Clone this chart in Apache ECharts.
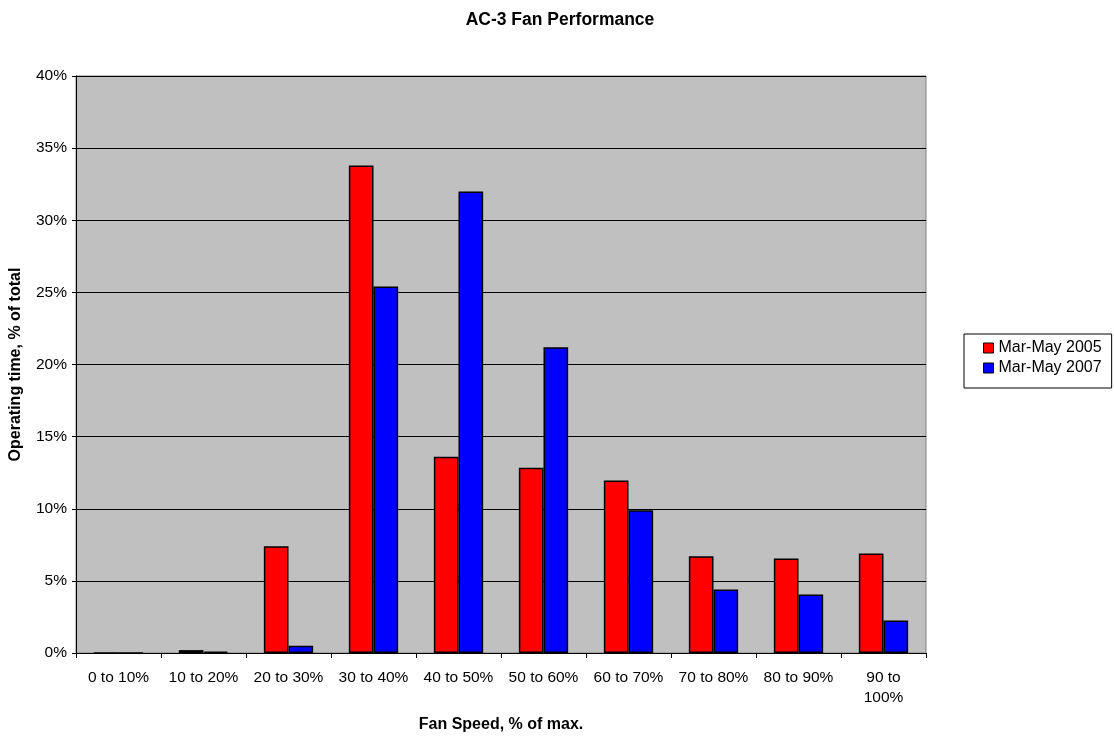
<!DOCTYPE html>
<html>
<head>
<meta charset="utf-8">
<script src="https://cdn.jsdelivr.net/npm/echarts@6/dist/echarts.min.js"></script>
<style>
  html, body { margin: 0; padding: 0; background: #ffffff; }
  #chart { width: 1114px; height: 736px; }
</style>
</head>
<body>
<div id="chart"></div>
<script>
// Fan speed bins (x axis categories)
const speedBins = ['0 to 10%', '10 to 20%', '20 to 30%', '30 to 40%', '40 to 50%',
                   '50 to 60%', '60 to 70%', '70 to 80%', '80 to 90%', '90 to\n100%'];
// Share of operating time in each bin, percent
const marMay2005 = [0, 0.2, 7.4, 33.8, 13.6, 12.85, 11.95, 6.7, 6.55, 6.9];
const marMay2007 = [0, 0.1, 0.5, 25.4, 32.0, 21.2, 9.9, 4.4, 4.05, 2.25];
// Y axis tick values
const yTicks = { min: 0, max: 40, step: 5 };

const font = 'Liberation Sans, Arial, sans-serif';
const chart = echarts.init(document.getElementById('chart'), null, { renderer: 'canvas' });

chart.setOption({
  animation: false,
  backgroundColor: '#ffffff',
  title: {
    text: 'AC-3 Fan Performance',
    left: 555, top: 6, textAlign: 'center',
    textStyle: { fontFamily: font, fontSize: 17.5, fontWeight: 'bold', color: '#000' }
  },
  legend: {
    orient: 'vertical',
    left: 964, top: 334,
    padding: [6, 10, 12, 19],
    itemGap: 4,
    itemWidth: 10, itemHeight: 10,
    icon: 'rect',
    itemStyle: { borderColor: '#000', borderWidth: 1 },
    borderColor: '#000', borderWidth: 1,
    backgroundColor: '#fff',
    textStyle: { fontFamily: font, fontSize: 16, color: '#000' },
    data: ['Mar-May 2005', 'Mar-May 2007']
  },
  grid: {
    left: 76, top: 76, width: 850, height: 577,
    outerBoundsMode: 'none',
    containLabel: false,
    show: true,
    backgroundColor: '#c0c0c0',
    borderColor: '#808080', borderWidth: 1
  },
  xAxis: {
    type: 'category',
    data: speedBins,
    name: 'Fan Speed, % of max.',
    nameLocation: 'middle',
    nameGap: 64,
    nameTextStyle: { fontFamily: font, fontSize: 16, fontWeight: 'bold', color: '#000' },
    axisLine: { lineStyle: { color: '#000', width: 1 } },
    axisTick: { show: true, length: 5, lineStyle: { color: '#000' } },
    axisLabel: { fontFamily: font, fontSize: 15.5, color: '#000', margin: 15, lineHeight: 20, interval: 0 },
    splitLine: { show: false }
  },
  yAxis: {
    type: 'value',
    min: yTicks.min, max: yTicks.max, interval: yTicks.step,
    name: 'Operating time, % of total',
    nameLocation: 'middle',
    nameGap: 52,
    nameTextStyle: { fontFamily: font, fontSize: 16, fontWeight: 'bold', color: '#000' },
    axisLine: { show: true, lineStyle: { color: '#000', width: 1 } },
    axisTick: { show: true, length: 4, lineStyle: { color: '#000' } },
    axisLabel: { fontFamily: font, fontSize: 15.5, color: '#000', margin: 9, formatter: v => v + '%' },
    splitLine: { show: true, lineStyle: { color: '#000', width: 1 } }
  },
  series: [
    {
      name: 'Mar-May 2005', type: 'bar', data: marMay2005,
      barGap: '0%', barCategoryGap: '42%',
      itemStyle: { color: '#ff0000', borderColor: '#000', borderWidth: 1.5 }
    },
    {
      name: 'Mar-May 2007', type: 'bar', data: marMay2007,
      barGap: '0%', barCategoryGap: '42%',
      itemStyle: { color: '#0000ff', borderColor: '#000', borderWidth: 1.5 }
    }
  ]
});
</script>
</body>
</html>
